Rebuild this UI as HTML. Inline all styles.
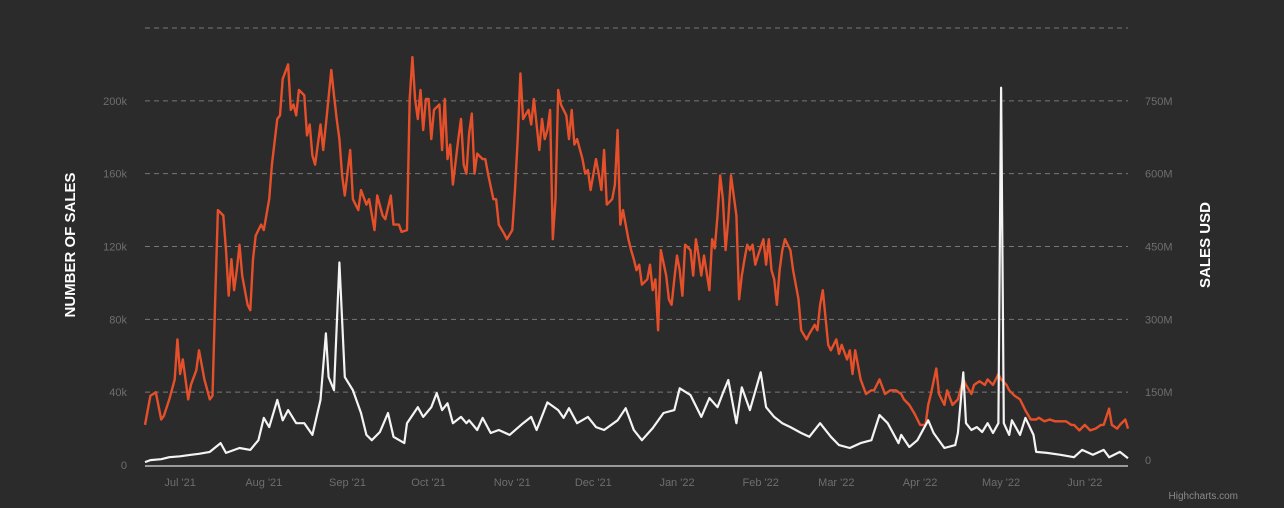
<!DOCTYPE html>
<html><head><meta charset="utf-8">
<style>
html,body{margin:0;padding:0;background:#2b2b2b;}
svg{display:block;font-family:"Liberation Sans",sans-serif;}
</style></head>
<body>
<svg id="chart" width="1284" height="508" viewBox="0 0 1284 508" xmlns="http://www.w3.org/2000/svg">
<rect width="1284" height="508" fill="#2b2b2b"/>
<g id="grid"></g>
<g id="axes"></g>
<g id="series"></g>
<text x="75" y="245" transform="rotate(-90 75 245)" text-anchor="middle" fill="#ffffff" font-size="15" font-weight="bold">NUMBER OF SALES</text>
<text x="1210" y="245" transform="rotate(-90 1210 245)" text-anchor="middle" fill="#ffffff" font-size="15" font-weight="bold">SALES USD</text>
<text x="1238" y="499" text-anchor="end" fill="#8a8a8a" font-size="10">Highcharts.com</text>
</svg>
<script>
// Day offsets from 18 Jun 2021
const salesDays = [0,2,4,6,7,9,11,12,13,14,16,17,19,20,22,24,25,26,27,29,30,31,32,33,34,35,36,38,39,40,41,43,44,46,47,49,50,51,53,54,55,56,57,59,60,61,62,63,65,66,67,69,70,71,72,73,74,76,77,79,80,82,83,85,86,88,89,91,92,94,95,97,98,99,100,101,102,103,104,105,106,107,109,110,111,112,113,114,116,117,118,119,120,121,122,123,125,126,127,129,130,131,133,134,136,137,138,139,140,142,143,144,146,147,148,149,150,151,152,153,154,156,157,158,159,160,162,163,164,165,167,168,169,170,171,173,174,175,176,177,179,180,181,182,183,184,186,187,188,189,190,191,193,194,195,196,197,198,199,200,202,203,204,205,206,207,209,210,211,212,213,214,215,216,217,219,220,221,222,223,224,225,226,227,229,230,231,232,233,234,235,236,237,239,240,242,243,245,246,248,249,250,251,253,254,256,257,258,260,261,262,263,265,267,269,270,272,274,276,278,280,281,283,285,287,289,290,291,293,294,296,297,299,301,303,304,306,307,309,311,312,314,316,317,319,320,322,324,326,328,330,331,333,335,337,339,341,343,344,346,348,350,352,354,355,357,358,360,361,363,364];
// Number of sales (thousands)
const salesValues = [22,38,40,25,27,36,47,69,50,58,36,44,52,63,47,36,38,91,140,137,118,93,113,96,107,121,104,88,85,113,126,132,129,146,165,190,192,212,220,195,198,192,206,203,181,187,170,165,187,173,187,217,203,190,179,159,148,173,146,140,151,143,146,129,148,137,135,148,132,132,128,129,201,224,201,190,206,184,201,201,179,195,198,173,201,168,176,154,179,190,165,160,182,193,160,171,168,168,160,146,146,132,127,124,129,151,179,215,190,195,187,201,173,190,179,184,195,124,146,206,198,192,179,195,176,179,168,160,162,151,168,160,151,173,143,146,154,184,132,140,124,118,113,107,110,99,102,110,96,102,74,118,104,91,88,102,115,107,93,121,118,104,124,115,104,115,96,124,119,137,159,146,118,135,159,137,91,104,113,121,118,121,110,115,124,110,124,107,102,88,107,118,124,118,107,91,74,69,72,77,74,88,96,66,63,69,61,66,58,63,50,63,47,39,41,41,47,39,41,41,39,36,33,28,22,22,33,39,53,39,33,41,33,36,47,44,39,44,46,44,47,44,50,47,44,41,38,36,30,25,25,26,24,25,24,24,24,22,22,19,22,19,20,22,22,31,22,20,22,25,20,15];
const usdDays = [0,2,6,9,13,17,20,24,28,30,35,39,42,44,46,49,51,53,56,59,62,65,67,68,70,72,74,77,80,82,84,87,90,92,96,97,101,103,106,108,110,112,114,117,119,120,123,125,128,131,135,140,143,145,149,153,155,157,160,164,167,170,175,178,181,184,188,192,196,198,202,206,209,212,214,216,219,221,224,228,230,233,236,239,243,246,250,254,257,261,265,269,272,275,279,280,283,286,290,292,296,300,301,303,304,306,308,310,312,314,316,317,318,320,321,324,326,329,330,334,339,344,347,351,355,357,361,364];
// Sales USD (millions)
const usdValues = [6,10,12,16,18,21,23,27,45,25,35,31,51,97,78,134,92,113,86,86,62,134,271,181,154,417,181,154,107,62,51,68,107,58,45,86,119,99,119,148,113,127,86,99,86,92,72,97,66,72,62,86,99,72,129,113,97,117,86,99,78,72,92,117,72,51,76,107,113,158,144,99,138,119,148,175,86,160,113,191,119,99,86,78,66,58,86,58,41,35,45,51,103,86,45,62,37,51,92,66,35,41,66,191,86,72,78,68,86,66,86,777,86,62,92,62,97,62,27,25,21,16,31,21,31,16,27,14];
const leftTicks = [0,40,80,120,160,200,240];
const leftTickLabels = ["0","40k","80k","120k","160k","200k",""];
const rightTicks = [0,150,300,450,600,750,900];
const rightTickLabels = ["0","150M","300M","450M","600M","750M",""];
const monthDays = [13,44,75,105,136,166,197,228,256,287,317,348];
const monthLabels = ["Jul '21","Aug '21","Sep '21","Oct '21","Nov '21","Dec '21","Jan '22","Feb '22","Mar '22","Apr '22","May '22","Jun '22"];

const NS="http://www.w3.org/2000/svg";
const X0=145,X1=1128,Y0=465,Y1=28;
const xs=d=>X0+d/364*(X1-X0);
const yL=v=>Y0-v/240*(Y0-Y1);
const yR=v=>Y0-v/900*(Y0-Y1);
function mk(tag,attrs,parent){const e=document.createElementNS(NS,tag);for(const k in attrs)e.setAttribute(k,attrs[k]);parent.appendChild(e);return e;}
const grid=document.getElementById('grid'),axes=document.getElementById('axes'),series=document.getElementById('series');

leftTicks.forEach((t,i)=>{
  const y=yL(t);
  if(t>0){
    const l=mk('line',{x1:X0,x2:X1,y1:y,y2:y,stroke:'#777',"stroke-width":1,"stroke-dasharray":"5,4"},grid);
    
    
  }
  const tx=mk('text',{x:127,y:y+4,"text-anchor":"end",fill:'#6e6e6e',"font-size":11},axes);
  tx.textContent=leftTickLabels[i];
  
  
});
rightTicks.forEach((t,i)=>{
  const y=yR(t);
  const tx=mk('text',{x:1145,y:y+(t===0?-1:4),"text-anchor":"start",fill:'#6e6e6e',"font-size":11},axes);
  tx.textContent=rightTickLabels[i];
  
  
});
const ax=mk('line',{x1:X0,x2:X1,y1:466,y2:466,stroke:'#9a9a9a',"stroke-width":2},axes);


monthDays.forEach((d,i)=>{
  const tx=mk('text',{x:xs(d),y:486,"text-anchor":"middle",fill:'#6e6e6e',"font-size":11},axes);
  tx.textContent=monthLabels[i];
  
  
});
function path(days,vals,yf){return days.map((d,i)=>(i?'L':'M')+xs(d).toFixed(1)+','+yf(vals[i]).toFixed(1)).join(' ');}
const p1=mk('path',{d:path(salesDays,salesValues,yL),fill:'none',stroke:'#e5502b',"stroke-width":2.4,"stroke-linejoin":"round"},series);


const p2=mk('path',{d:path(usdDays,usdValues,yR),fill:'none',stroke:'#f4f4f4',"stroke-width":2.2,"stroke-linejoin":"round"},series);


</script>
</body></html>
